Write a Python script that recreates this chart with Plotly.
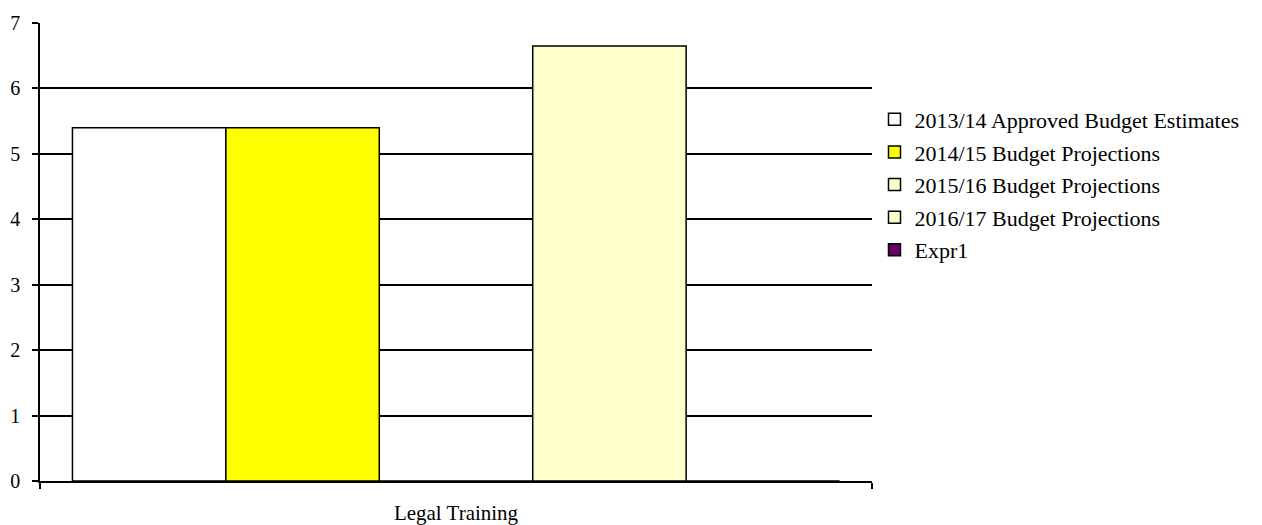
import plotly.graph_objects as go

categories = ["Legal Training"]
series_names = [
    "2013/14 Approved Budget Estimates",
    "2014/15 Budget Projections",
    "2015/16 Budget Projections",
    "2016/17 Budget Projections",
    "Expr1",
]
series_values = [
    [5.4],
    [5.4],
    [0],
    [6.65],
    [0],
]
series_colors = ["#FFFFFF", "#FFFF00", "#FFFFCC", "#FFFFCC", "#660066"]
y_ticks = [0, 1, 2, 3, 4, 5, 6, 7]

FONT = "Liberation Serif"

fig = go.Figure()
for i, (name, vals, col) in enumerate(zip(series_names, series_values, series_colors)):
    fig.add_trace(go.Bar(
        x=categories, y=vals, name=name,
        marker=dict(color=col, line=dict(color="#000000", width=1.5)),
        legendgroup=f"g{i}",
    ))

fig.update_layout(
    width=1254, height=517,
    margin=dict(l=32, r=390, t=15, b=44, autoexpand=False),
    paper_bgcolor="white", plot_bgcolor="white",
    barmode="group", bargap=0.078, bargroupgap=0,
    font=dict(family=FONT, size=20, color="#000000"),
    showlegend=True,
    legend=dict(
        x=1.003, y=0.835, xanchor="left", yanchor="top",
        font=dict(family=FONT, size=22, color="#000000"),
        tracegroupgap=1, itemwidth=30, traceorder="grouped",
        bgcolor="rgba(0,0,0,0)",
    ),
    xaxis=dict(
        automargin=False,
        showline=True, linecolor="#000000", linewidth=1.5,
        ticks="outside", tickson="boundaries", ticklen=6, tickcolor="#000000", tickwidth=1.5,
        ticklabelstandoff=12,
        showgrid=False, zeroline=False,
        tickfont=dict(family=FONT, size=21),
    ),
    yaxis=dict(
        automargin=False,
        range=[0, 7], tickvals=y_ticks,
        showline=True, linecolor="#000000", linewidth=1.5,
        ticks="outside", ticklen=6, tickcolor="#000000", tickwidth=1.5,
        ticklabelstandoff=8,
        showgrid=True, gridcolor="#000000", gridwidth=1.5,
        zeroline=False,
        tickfont=dict(family=FONT, size=20),
    ),
)

fig.write_html("out.html")
